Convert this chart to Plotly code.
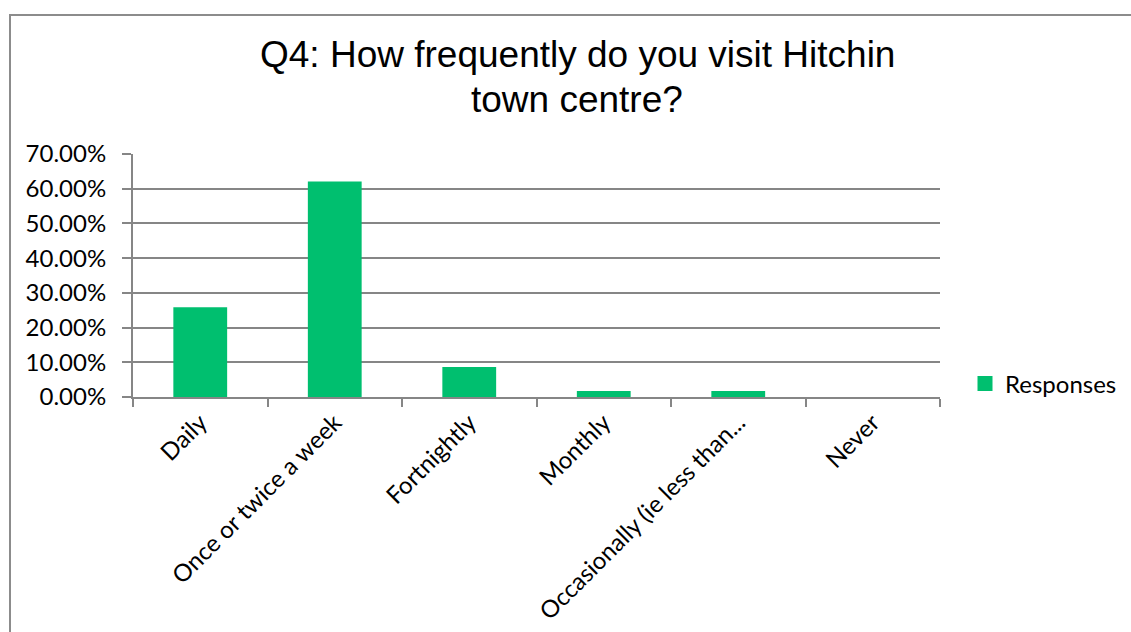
import plotly.graph_objects as go

# Survey responses for Q4
categories = ["Daily", "Once or twice a week", "Fortnightly", "Monthly",
              "Occasionally (ie less than...", "Never"]
responses = [0.2586, 0.6207, 0.0862, 0.0172, 0.0172, 0.0]
y_ticks = [0.0, 0.1, 0.2, 0.3, 0.4, 0.5, 0.6, 0.7]
y_tick_labels = ["0.00%", "10.00%", "20.00%", "30.00%", "40.00%", "50.00%", "60.00%", "70.00%"]
title_lines = ["Q4: How frequently do you visit Hitchin", "town centre?"]

W, H = 1131, 632
PL, PR, PT, PB = 133, 940, 154, 397  # plot area in pixels

GRID = "#868686"
BAR = "#00BF6F"
LABEL_FONT = dict(family="Lato, Open Sans, sans-serif", size=24, color="#000000")
TITLE_FONT = dict(family="Liberation Sans, Arial, sans-serif", size=37, color="#000000")


def px_to_paper_x(px):
    return (px - PL) / (PR - PL)


def px_to_paper_y(py):
    return (PB - py) / (PB - PT)


fig = go.Figure()
fig.add_trace(
    go.Bar(
        x=categories,
        y=responses,
        name="Responses",
        marker=dict(color=BAR, line=dict(width=0)),
        width=0.4,
        showlegend=False,
    )
)
# legend entry with a larger square key
fig.add_trace(
    go.Scatter(
        x=[None], y=[None],
        mode="markers",
        name="Responses",
        marker=dict(symbol="square", size=15, color=BAR),
        showlegend=True,
    )
)

annotations = [
    dict(text=line, xref="paper", yref="paper",
         x=px_to_paper_x(577), y=px_to_paper_y(py),
         xanchor="center", yanchor="middle", showarrow=False,
         font=TITLE_FONT)
    for line, py in zip(title_lines, [55, 99])
]

fig.update_layout(
    width=W,
    height=H,
    margin=dict(l=PL, r=W - PR, t=PT, b=H - PB, pad=0, autoexpand=False),
    paper_bgcolor="white",
    plot_bgcolor="white",
    showlegend=True,
    legend=dict(
        x=px_to_paper_x(965), y=px_to_paper_y(384),
        xanchor="left", yanchor="middle",
        font=LABEL_FONT,
        bgcolor="rgba(0,0,0,0)",
        itemwidth=30,
    ),
    annotations=annotations,
    xaxis=dict(
        type="category",
        tickangle=-45,
        tickfont=LABEL_FONT,
        showline=True, linecolor=GRID, linewidth=2,
        ticks="outside", ticklen=8, tickcolor=GRID, tickwidth=2,
        tickson="boundaries",
        showgrid=False,
        range=[-0.5, 5.5],
        automargin=False,
    ),
    yaxis=dict(
        range=[0, 0.7],
        tickvals=y_ticks,
        ticktext=y_tick_labels,
        tickfont=LABEL_FONT,
        showline=True, linecolor=GRID, linewidth=2,
        ticks="outside", ticklen=9, tickcolor=GRID, tickwidth=2,
        showgrid=True, gridcolor=GRID, gridwidth=2,
        zeroline=False,
        ticklabelstandoff=11,
        automargin=False,
    ),
    shapes=[
        # outer chart border
        dict(
            type="rect", xref="paper", yref="paper",
            x0=px_to_paper_x(10), x1=px_to_paper_x(1160),
            y0=px_to_paper_y(700), y1=px_to_paper_y(15),
            line=dict(color="#8c8c8c", width=2),
            fillcolor="rgba(0,0,0,0)",
            layer="below",
        )
    ],
)

fig.write_html("out.html")
